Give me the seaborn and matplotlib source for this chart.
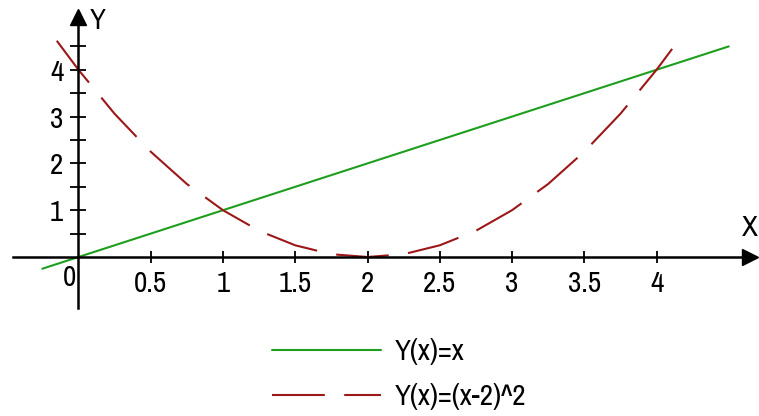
import matplotlib
matplotlib.use("Agg")
import matplotlib.pyplot as plt
from matplotlib import font_manager as fm
import seaborn as sns
import pandas as pd

# --- data ---
line_x = [-0.25, 4.5]
line_y = [-0.25, 4.5]

para_x = [-0.15, 0, 0.25, 0.5, 0.75, 1, 1.25, 1.5, 1.75, 2, 2.25, 2.5, 2.75, 3, 3.25, 3.5, 3.75, 4, 4.15]
para_y = [4.62, 4.0, 3.06, 2.25, 1.56, 1.0, 0.56, 0.25, 0.06, 0.0, 0.06, 0.25, 0.56, 1.0, 1.56, 2.25, 3.06, 4.0, 4.62]

x_ticks = [0.5, 1, 1.5, 2, 2.5, 3, 3.5, 4]
x_tick_labels = ["0.5", "1", "1.5", "2", "2.5", "3", "3.5", "4"]
y_ticks = [1, 2, 3, 4]
y_minor = [0.5, 1.5, 2.5, 3.5, 4.5]

GREEN = "#1e9e1e"
RED = "#9c1818"

# narrow font, first one that is installed
installed = {f.name for f in fm.fontManager.ttflist}
candidatos = ["Liberation Sans Narrow", "Arial Narrow", "Archivo Narrow", "PT Sans Narrow",
              "Pragati Narrow", "Roboto Condensed", "Open Sans Condensed"]
fonte = [c for c in candidatos if c in installed][:1] + ["DejaVu Sans"]

sns.set_style("white")
plt.rcParams["font.family"] = fonte
plt.rcParams["lines.scale_dashes"] = False
plt.rcParams["text.color"] = "black"
FS = 21

fig = plt.figure(figsize=(7.59, 4.16), dpi=100)
ax = fig.add_axes([0, 0, 1, 1])

df_line = pd.DataFrame({"x": line_x, "y": line_y})
df_para = pd.DataFrame({"x": para_x, "y": para_y})

sns.lineplot(data=df_line, x="x", y="y", ax=ax, color=GREEN, lw=1.5,
             label="Y(x)=x", sort=False, estimator=None)
sns.lineplot(data=df_para, x="x", y="y", ax=ax, color=RED, lw=1.5,
             linestyle=(0, (38, 14)), label="Y(x)=(x-2)^2", sort=False, estimator=None)

# axes through the origin (limits fitted to the pixels)
ax.set_xlim(-0.543, 4.709)
ax.set_ylim(-3.397, 5.491)

for s in ["top", "right"]:
    ax.spines[s].set_visible(False)
ax.spines["left"].set_position(("data", 0))
ax.spines["bottom"].set_position(("data", 0))
ax.spines["left"].set_bounds(-1.08, 5.2)
ax.spines["bottom"].set_bounds(-0.45, 4.65)
for s in ["left", "bottom"]:
    ax.spines[s].set_linewidth(1.8)
    ax.spines[s].set_color("black")

# arrow heads
ax.plot(4.647, 0, marker=">", color="black", ms=12, clip_on=False)
ax.plot(0, 5.12, marker="^", color="black", ms=12, clip_on=False)

ax.set_xticks(x_ticks)
ax.set_xticklabels(x_tick_labels)
ax.set_yticks(y_ticks)
ax.set_yticks(y_minor, minor=True)
ax.tick_params(axis="x", bottom=True, direction="inout", length=9, width=1.3, pad=5,
               labelsize=FS, colors="black")
ax.tick_params(axis="y", which="both", left=True, direction="inout", length=12, width=1.3,
               pad=5, labelsize=FS, colors="black")
ax.set_xlabel("")
ax.set_ylabel("")

ax.text(-0.065, -0.43, "0", fontsize=FS, ha="center", va="center")
ax.text(4.647, 0.62, "X", fontsize=FS, ha="center", va="center")
ax.text(0.13, 5.06, "Y", fontsize=FS, ha="center", va="center")

ax.legend(loc="upper left", bbox_to_anchor=(272 / 759, 1 - 338 / 416),
          bbox_transform=fig.transFigure, frameon=False, fontsize=FS,
          handlelength=3.75, handletextpad=0.45, borderpad=0, borderaxespad=0,
          labelspacing=0.62)

fig.savefig("out.png", dpi=100)
